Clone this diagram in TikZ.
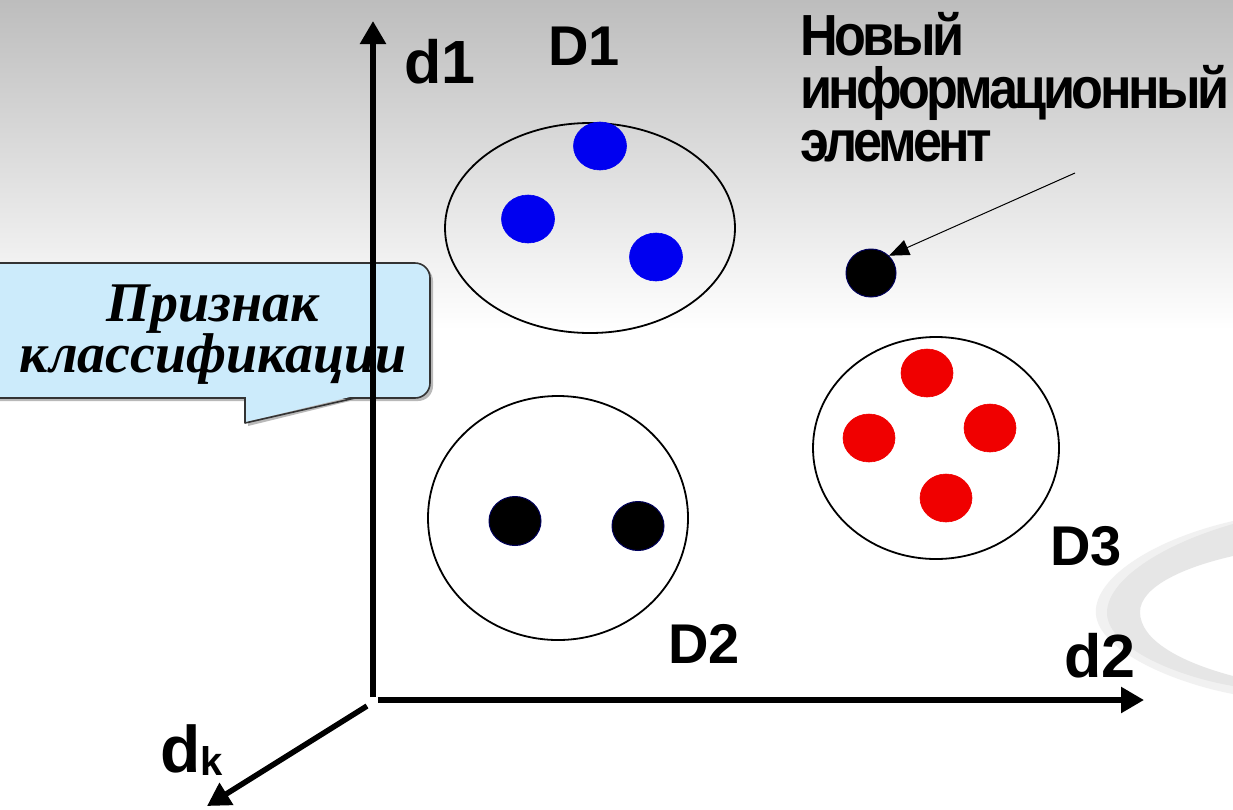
\documentclass[tikz,border=0pt]{standalone}
\usepackage{fontspec}
\setmainfont{Liberation Sans}
\newfontfamily\lblfont[LetterSpace=-6,FakeStretch=0.9]{Liberation Sans}
\newfontfamily\seriffont{Liberation Serif}
\usetikzlibrary{arrows.meta,shapes.geometric}
\definecolor{bgtop}{HTML}{BDBDBD}
\definecolor{callfill}{HTML}{CCEBFB}
\definecolor{callline}{HTML}{333333}
\definecolor{dotblue}{HTML}{0000F0}
\definecolor{dotred}{HTML}{F00000}
\definecolor{dotrim}{HTML}{00005A}
\definecolor{swA}{HTML}{E6E6E6}
\definecolor{swB}{HTML}{F1F1F1}
\tikzset{
  axis/.style={line width=5.5pt,-{Triangle[length=23pt,width=25pt]}},
  cluster/.style={ellipse,draw=black,line width=1.8pt,inner sep=0pt},
  bdot/.style={ellipse,fill=dotblue,draw=dotblue,line width=0.6pt,minimum width=53pt,minimum height=48pt,inner sep=0pt},
  rdot/.style={ellipse,fill=dotred,draw=dotred,line width=0.6pt,minimum width=52pt,minimum height=48pt,inner sep=0pt},
  kdot/.style={ellipse,fill=black,draw=dotrim,line width=1pt,minimum width=52pt,minimum height=49pt,inner sep=0pt},
  lbl/.style={inner sep=0pt,anchor=base west,font=\bfseries\fontsize{56}{56}\selectfont},
  axlbl/.style={inner sep=0pt,anchor=base west,font=\bfseries\fontsize{61}{61}\selectfont},
}
\begin{document}
\begin{tikzpicture}[x=1pt,y=-1pt]
\useasboundingbox (0,0) rectangle (1233,809);
\begin{scope}
\clip (0,0) rectangle (1233,809);
% background
\fill[white] (0,0) rectangle (1233,809);
\shade[top color=bgtop,bottom color=white] (0,0) rectangle (1233,330);
% swoosh
\fill[swB] (1233,521) .. controls (1150,540) and (1092,580) .. (1096,615)
  .. controls (1100,650) and (1170,682) .. (1233,694) -- (1233,684)
  .. controls (1175,672) and (1118,645) .. (1115,612)
  .. controls (1112,585) and (1160,550) .. (1233,530) -- cycle;
\fill[swA] (1233,524) .. controls (1160,545) and (1108,580) .. (1107,612)
  .. controls (1106,645) and (1170,675) .. (1233,686) -- (1233,676)
  .. controls (1180,662) and (1140,640) .. (1140,612)
  .. controls (1140,588) and (1180,568) .. (1233,556) -- cycle;
% callout
\fill[gray!55,rounded corners=15pt] (-20,266) rectangle (433,401);
\fill[gray!55] (248,399) -- (248,426) -- (358,399) -- cycle;
\draw[callline,line width=1.6pt,fill=callfill,rounded corners=15pt] (-20,263) rectangle (430,398);
\fill[callfill] (246,396) -- (246,422) -- (354,396) -- cycle;
\draw[callline,line width=1.6pt,line join=round] (245,398) -- (245,423) -- (355,398);
\end{scope}
\node[inner sep=0pt,align=center,font=\seriffont\bfseries\itshape\fontsize{56}{51}\selectfont,anchor=base] (prizn) at (213,372) {Признак\\классификации};
% axes
\coordinate (o1) at (373,697);
\coordinate (o2) at (378,700);
\coordinate (o3) at (367,706);
\coordinate (t1) at (373,21);
\coordinate (t2) at (1144,700);
\coordinate (t3) at (207,806);
\draw[axis] (o1) -- (t1);
\draw[axis] (o2) -- (t2);
\draw[axis] (o3) -- (t3);
% clusters
\node[cluster,minimum width=290pt,minimum height=210pt] (c1) at (590,228) {};
\node[cluster,minimum width=260pt,minimum height=244pt] (c2) at (558,518) {};
\node[cluster,minimum width=246pt,minimum height=222pt] (c3) at (936,448) {};
% dots
\node[bdot] (b1) at (600,146) {};
\node[bdot] (b2) at (528,219) {};
\node[bdot] (b3) at (656,257) {};
\node[kdot] (k1) at (515,521) {};
\node[kdot] (k2) at (638,526) {};
\node[rdot] (r1) at (927,373) {};
\node[rdot] (r2) at (869,438) {};
\node[rdot] (r3) at (990,428) {};
\node[rdot] (r4) at (946,498) {};
\node[kdot,minimum width=50pt,minimum height=48pt] (nw) at (871,273) {};
% new element label and pointer
\node[inner sep=0pt,anchor=base west,align=left,font=\lblfont\bfseries\fontsize{58}{53}\selectfont] (newlbl) at (800,161) {Новый\\информационный\\элемент};
\coordinate (ptr) at (1075,173);
\draw[line width=1pt,-{Triangle[length=20pt,width=16pt]}] (ptr) -- (nw.north east);
% labels
\node[lbl] (L1) at (548,65) {D1};
\node[lbl] (L2) at (668,663) {D2};
\node[lbl] (L3) at (1050,565) {D3};
\node[axlbl] (a1) at (404,83) {d1};
\node[axlbl] (a2) at (1064,677) {d2};
\node[inner sep=0pt,anchor=base west,font=\bfseries\fontsize{66}{66}\selectfont] (ak) at (160,772) {d\raisebox{-3pt}{\fontsize{40}{40}\selectfont k}};
\end{tikzpicture}
\end{document}
